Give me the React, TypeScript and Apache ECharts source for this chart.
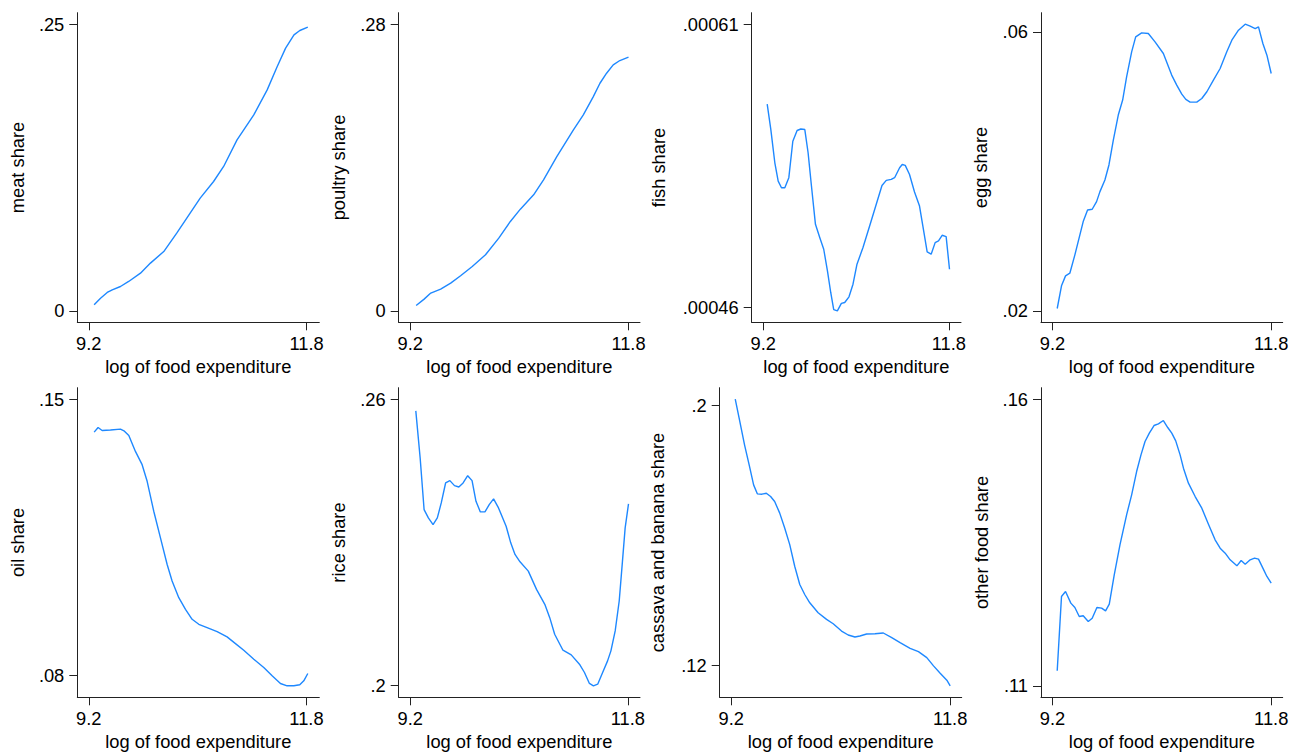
import React, { useEffect, useRef } from "react";
import * as echarts from "echarts";

// x tick values shared by every panel
const xTicks = [9.2, 11.8];
const xTitle = "log of food expenditure";

// traced curves: [log of food expenditure, share]
const meat = [[9.264,0.0052],[9.34,0.011],[9.42,0.016],[9.48,0.0183],[9.578,0.0212],[9.676,0.0256],[9.817,0.0328],[9.936,0.0416],[10.095,0.0517],[10.25,0.0677],[10.41,0.0852],[10.53,0.0983],[10.69,0.1128],[10.81,0.1259],[10.97,0.1491],[11.17,0.1709],[11.33,0.1927],[11.45,0.2131],[11.55,0.2291],[11.65,0.2407],[11.72,0.2445],[11.815,0.2474]];
const poultry = [[9.271,0.0052],[9.366,0.0114],[9.445,0.0173],[9.563,0.0212],[9.682,0.027],[9.80,0.0342],[9.939,0.0433],[10.097,0.0547],[10.255,0.071],[10.393,0.0873],[10.512,0.0993],[10.67,0.1133],[10.788,0.128],[10.946,0.1507],[11.144,0.1768],[11.262,0.1914],[11.381,0.2093],[11.46,0.2223],[11.539,0.2321],[11.618,0.2403],[11.697,0.2445],[11.8,0.2478]];
const fish = [[9.256,0.0005677],[9.307,0.0005542],[9.363,0.0005366],[9.41,0.0005269],[9.456,0.0005234],[9.503,0.0005234],[9.559,0.0005287],[9.615,0.000548],[9.675,0.0005537],[9.727,0.0005545],[9.783,0.0005542],[9.829,0.0005419],[9.876,0.0005243],[9.932,0.000504],[9.992,0.000497],[10.048,0.0004908],[10.1,0.0004794],[10.146,0.0004679],[10.188,0.0004588],[10.239,0.0004582],[10.295,0.0004621],[10.342,0.0004626],[10.402,0.0004656],[10.458,0.0004723],[10.514,0.0004829],[10.598,0.0004917],[10.691,0.0005031],[10.784,0.0005146],[10.864,0.0005246],[10.924,0.0005273],[10.994,0.0005278],[11.041,0.0005287],[11.111,0.000534],[11.148,0.0005357],[11.19,0.0005352],[11.25,0.0005304],[11.32,0.0005211],[11.39,0.0005137],[11.437,0.0005031],[11.497,0.0004894],[11.553,0.0004882],[11.609,0.0004943],[11.656,0.0004952],[11.707,0.0004982],[11.763,0.0004975],[11.81,0.0004802]];
const egg = [[9.256,0.02033],[9.307,0.02358],[9.355,0.02501],[9.406,0.02539],[9.466,0.02802],[9.565,0.03279],[9.617,0.03446],[9.672,0.03456],[9.724,0.03566],[9.764,0.03709],[9.823,0.03876],[9.871,0.04091],[9.923,0.04449],[9.982,0.04807],[10.034,0.05022],[10.081,0.05356],[10.141,0.05714],[10.189,0.05928],[10.26,0.05986],[10.339,0.05976],[10.419,0.05857],[10.518,0.0569],[10.617,0.0538],[10.677,0.05236],[10.737,0.05107],[10.785,0.05031],[10.836,0.04993],[10.915,0.04993],[10.975,0.05045],[11.035,0.05141],[11.113,0.05308],[11.193,0.05475],[11.272,0.05714],[11.332,0.05881],[11.411,0.06024],[11.491,0.0611],[11.55,0.06081],[11.61,0.06048],[11.649,0.06072],[11.701,0.05833],[11.749,0.05666],[11.8,0.05403]];
const oil = [[9.264,0.14165],[9.311,0.14283],[9.359,0.14207],[9.459,0.1422],[9.578,0.1424],[9.626,0.1419],[9.678,0.1408],[9.757,0.13676],[9.837,0.13339],[9.897,0.12917],[9.976,0.12158],[10.056,0.11483],[10.136,0.10808],[10.195,0.10387],[10.275,0.09965],[10.355,0.0967],[10.434,0.09417],[10.514,0.0929],[10.613,0.09206],[10.733,0.09105],[10.852,0.0897],[10.952,0.08801],[11.051,0.08633],[11.171,0.08405],[11.29,0.08194],[11.39,0.07983],[11.489,0.07789],[11.569,0.0773],[11.649,0.0773],[11.72,0.07755],[11.768,0.07857],[11.816,0.08042]];
const rice = [[9.267,0.25756],[9.319,0.24765],[9.366,0.23684],[9.417,0.23509],[9.473,0.2337],[9.524,0.23509],[9.571,0.23823],[9.623,0.24242],[9.674,0.24291],[9.729,0.24186],[9.781,0.24158],[9.832,0.24242],[9.887,0.24395],[9.939,0.24291],[9.986,0.23858],[10.038,0.23635],[10.093,0.23635],[10.144,0.23788],[10.196,0.23907],[10.255,0.23719],[10.346,0.23335],[10.401,0.22986],[10.452,0.22742],[10.512,0.22588],[10.611,0.22393],[10.709,0.22009],[10.808,0.21695],[10.867,0.21416],[10.926,0.21067],[11.025,0.20733],[11.124,0.20635],[11.222,0.2044],[11.282,0.20265],[11.341,0.20035],[11.389,0.19986],[11.44,0.2002],[11.499,0.20265],[11.558,0.20509],[11.598,0.20719],[11.649,0.21137],[11.697,0.21765],[11.736,0.22602],[11.768,0.233],[11.808,0.23802]];
const cassava = [[9.248,0.20184],[9.299,0.1954],[9.359,0.18774],[9.418,0.1811],[9.466,0.17548],[9.51,0.17272],[9.565,0.17262],[9.617,0.17292],[9.668,0.1719],[9.716,0.17037],[9.776,0.1668],[9.835,0.1622],[9.895,0.15709],[9.954,0.15045],[10.014,0.14483],[10.073,0.14176],[10.133,0.13921],[10.232,0.13614],[10.332,0.1341],[10.411,0.13277],[10.51,0.13052],[10.589,0.1293],[10.669,0.12868],[10.728,0.12899],[10.808,0.1296],[10.907,0.1297],[11.006,0.12991],[11.106,0.12848],[11.205,0.12695],[11.324,0.12521],[11.423,0.12419],[11.522,0.12235],[11.602,0.1198],[11.681,0.11755],[11.76,0.1154],[11.8,0.11367]];
const other = [[9.256,0.11262],[9.307,0.12558],[9.355,0.12645],[9.418,0.12442],[9.466,0.12366],[9.518,0.12209],[9.565,0.12221],[9.625,0.12122],[9.672,0.1218],[9.728,0.12366],[9.784,0.12355],[9.831,0.12308],[9.875,0.12424],[9.934,0.12936],[10.002,0.13459],[10.081,0.13983],[10.141,0.14331],[10.2,0.14738],[10.252,0.15029],[10.3,0.15262],[10.351,0.15407],[10.407,0.15541],[10.459,0.1557],[10.518,0.15628],[10.57,0.15506],[10.618,0.15407],[10.665,0.15273],[10.717,0.15029],[10.757,0.14797],[10.816,0.14535],[10.896,0.14302],[10.975,0.14099],[11.054,0.1382],[11.133,0.13547],[11.193,0.13401],[11.253,0.13314],[11.312,0.13198],[11.392,0.13093],[11.443,0.13186],[11.491,0.13122],[11.55,0.13198],[11.602,0.13227],[11.649,0.1321],[11.701,0.13052],[11.749,0.12907],[11.8,0.1279]];

const titles = ["meat share", "poultry share", "fish share", "egg share", "oil share", "rice share", "cassava and banana share", "other food share"];
const series = [meat, poultry, fish, egg, oil, rice, cassava, other];
const yTickValues = [[0, 0.25], [0, 0.28], [0.00046, 0.00061], [0.02, 0.06], [0.08, 0.15], [0.2, 0.26], [0.12, 0.2], [0.11, 0.16]];
const yTickLabels = [["0", ".25"], ["0", ".28"], [".00046", ".00061"], [".02", ".06"], [".08", ".15"], [".2", ".26"], [".12", ".2"], [".11", ".16"]];

// layout (pixels): axis-line box of each panel
const panelLeft = [77.3, 398.7, 751.7, 1041, 77.3, 398.7, 719.7, 1041];
const panelRight = [319.3, 640, 961, 1282.7, 319.3, 640, 961.7, 1282.7];
const rowTop = [12.7, 387.7];
const rowBottom = [322.3, 697.3];
const yNameGap = [50.5, 51.5, 84, 52, 50.5, 51.5, 53, 51];
const PAD = 11.5;
const FS = 18.3;
const FONT = "Liberation Sans, Arial, sans-serif";
const AXIS_COLOR = "#222";
const LINE_COLOR = "#1e88ff";

export default function App() {
  const ref = useRef<HTMLDivElement>(null);
  useEffect(() => {
    if (!ref.current) return;
    const chart = echarts.init(ref.current, undefined, { renderer: "svg" });
    const grids: any[] = [];
    const xAxes: any[] = [];
    const yAxes: any[] = [];
    const ser: any[] = [];
    series.forEach((data, i) => {
      const row = i < 4 ? 0 : 1;
      const L = panelLeft[i], R = panelRight[i], T = rowTop[row], B = rowBottom[row];
      const W = R - L, H = B - T;
      const xs = data.map((d) => d[0]);
      const ys = data.map((d) => d[1]);
      const xLo = Math.min(xTicks[0], ...xs), xHi = Math.max(xTicks[1], ...xs);
      const yLo = Math.min(yTickValues[i][0], ...ys), yHi = Math.max(yTickValues[i][1], ...ys);
      const xp = (PAD * (xHi - xLo)) / (W - 2 * PAD);
      const yp = (PAD * (yHi - yLo)) / (H - 2 * PAD);
      grids.push({ left: L, top: T, width: W, height: H });
      const axisLine = { show: true, onZero: false, lineStyle: { color: AXIS_COLOR, width: 1 } };
      const axisTick = { show: true, length: 8, lineStyle: { color: AXIS_COLOR, width: 1 } };
      xAxes.push({
        type: "value", gridIndex: i, min: xLo - xp, max: xHi + xp,
        axisLine,
        axisTick: { ...axisTick, customValues: xTicks },
        axisLabel: { customValues: xTicks, margin: 12, color: "#000", fontSize: FS, fontFamily: FONT, formatter: (v: number) => String(v) },
        splitLine: { show: false },
        name: xTitle, nameLocation: "middle", nameGap: 35,
        nameTextStyle: { color: "#000", fontSize: FS, fontFamily: FONT },
      });
      const tv = yTickValues[i], tl = yTickLabels[i];
      yAxes.push({
        type: "value", gridIndex: i, min: yLo - yp, max: yHi + yp,
        axisLine,
        axisTick: { ...axisTick, customValues: tv },
        axisLabel: {
          customValues: tv, margin: 13, color: "#000", fontSize: FS, fontFamily: FONT,
          formatter: (v: number) => (Math.abs(v - tv[0]) < Math.abs(v - tv[1]) ? tl[0] : tl[1]),
        },
        splitLine: { show: false },
        name: titles[i], nameLocation: "middle", nameGap: yNameGap[i],
        nameTextStyle: { color: "#000", fontSize: FS, fontFamily: FONT },
      });
      ser.push({
        type: "line", xAxisIndex: i, yAxisIndex: i, data, showSymbol: false, symbol: "none",
        lineStyle: { color: LINE_COLOR, width: 1.4 }, silent: true,
      });
    });
    chart.setOption({
      animation: false,
      backgroundColor: "#fff",
      textStyle: { fontFamily: FONT },
      grid: grids, xAxis: xAxes, yAxis: yAxes, series: ser,
    });
    return () => chart.dispose();
  }, []);
  return <div ref={ref} style={{ position: "fixed", left: 0, top: 0, width: 1298, height: 753, background: "#fff" }} />;
}
